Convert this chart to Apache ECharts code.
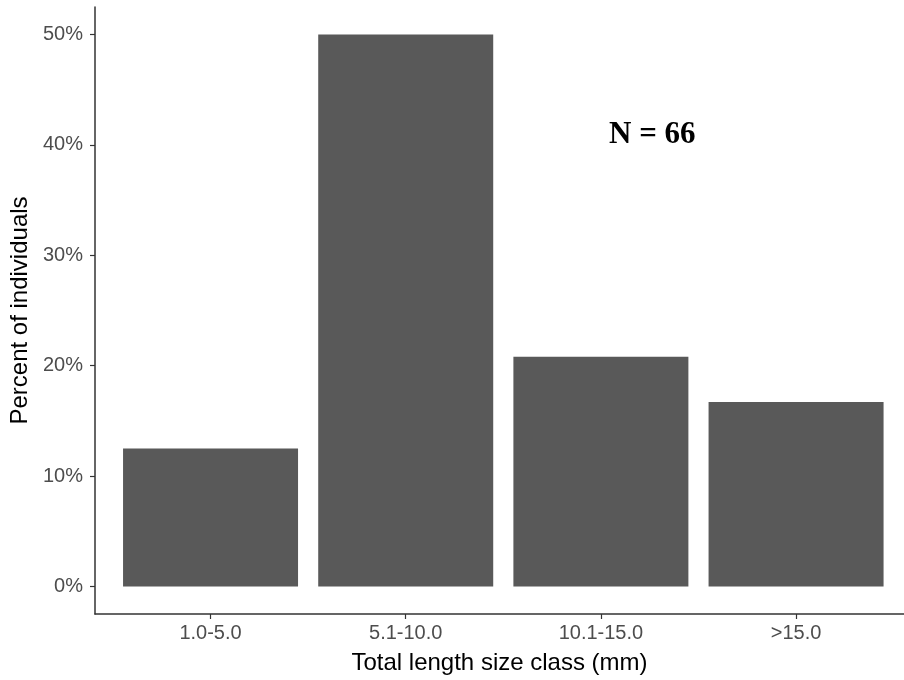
<!DOCTYPE html>
<html><head><meta charset="utf-8">
<script src="https://cdn.jsdelivr.net/npm/echarts@6/dist/echarts.min.js"></script>
<style>html,body{margin:0;padding:0;background:#fff}#c{width:904px;height:680px}</style>
</head><body><div id="c"></div>
<script>
const categories = ['1.0-5.0', '5.1-10.0', '10.1-15.0', '>15.0'];
const positions = [1, 2, 3, 4];
const percents = [12.5, 50.0, 20.8, 16.7];
const yTicks = [0, 10, 20, 30, 40, 50];
const annotation = 'N = 66';

const chart = echarts.init(document.getElementById('c'), null, {renderer: 'canvas'});
const axisColor = '#333333';
const labelColor = '#4d4d4d';
chart.setOption({
  animation: false,
  backgroundColor: '#ffffff',
  title: {
    text: annotation, left: 604, top: 114,
    textStyle: {fontFamily: 'Liberation Serif', fontWeight: 'bold', fontSize: 31, color: '#000'}
  },
  grid: {left: 95, top: 7, right: 0, height: 609, containLabel: false},
  xAxis: {
    type: 'value', min: 0.408, max: 4.553,
    name: 'Total length size class (mm)', nameLocation: 'middle', nameGap: 37,
    nameTextStyle: {fontFamily: 'Liberation Sans', fontSize: 24, color: '#000'},
    splitLine: {show: false},
    axisLine: {show: true, onZero: false, lineStyle: {color: axisColor, width: 1.5}},
    axisTick: {show: true, customValues: positions, length: 5, lineStyle: {color: axisColor, width: 1.2}},
    axisLabel: {
      customValues: positions, margin: 9, color: labelColor, fontFamily: 'Liberation Sans', fontSize: 20,
      formatter: v => categories[Math.round(v) - 1] || ''
    }
  },
  yAxis: {
    type: 'value', min: -2.5, max: 52.5,
    name: 'Percent of individuals', nameLocation: 'middle', nameGap: 60,
    nameTextStyle: {fontFamily: 'Liberation Sans', fontSize: 24, color: '#000'},
    splitLine: {show: false},
    axisLine: {show: true, onZero: false, lineStyle: {color: axisColor, width: 1.5}},
    axisTick: {show: true, customValues: yTicks, length: 5, lineStyle: {color: axisColor, width: 1.2}},
    axisLabel: {
      customValues: yTicks, margin: 12, color: labelColor, fontFamily: 'Liberation Sans', fontSize: 20,
      padding: [4, 0, 0, 0],
      formatter: v => v + '%'
    }
  },
  series: [{
    type: 'bar',
    data: positions.map((p, i) => [p, percents[i]]),
    barWidth: 175,
    itemStyle: {color: '#595959'},
    silent: true
  }]
});
</script></body></html>
